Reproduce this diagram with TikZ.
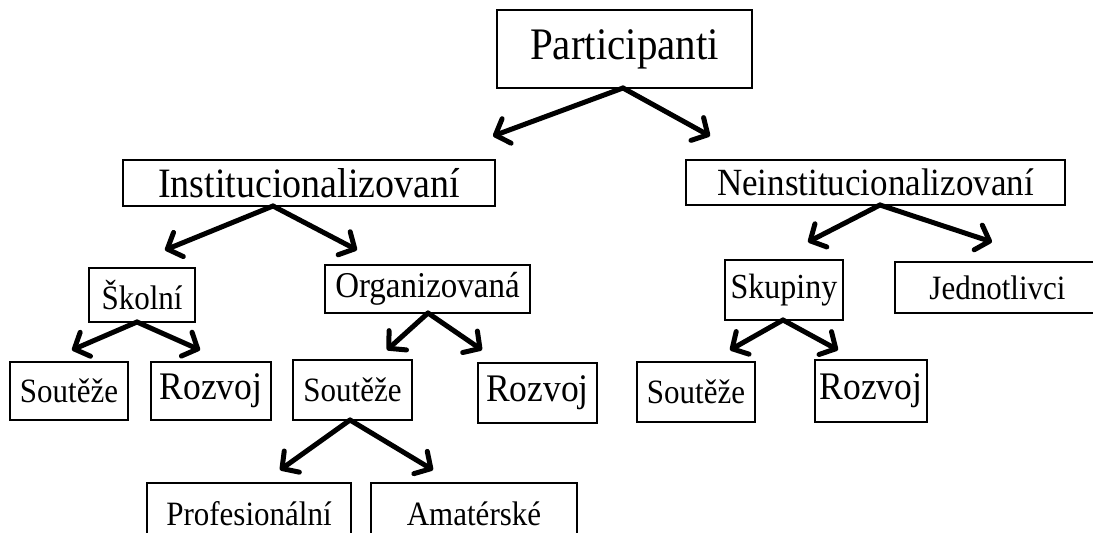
\documentclass[tikz,border=0pt]{standalone}
\usepackage{fontspec}
\setmainfont{Liberation Serif}
\usetikzlibrary{arrows.meta}
\newcommand{\fs}[1]{\fontsize{#1}{#1}\selectfont}
\newcommand{\vst}[1]{\scalebox{1}[1.1]{#1}}
\begin{document}
\begin{tikzpicture}[x=1pt,y=-1pt,
  box/.style={draw, line width=2.4pt, inner sep=0pt, align=center},
  arr/.style={line width=5pt, line cap=round,
    -{Straight Barb[length=12pt,width=26pt,line cap=round,line join=round]}}]
\useasboundingbox (0,0) rectangle (1093,533);
\clip (0,0) rectangle (1093,533);
% level 0
\node[box, minimum width=255pt, minimum height=78pt, font=\fs{41}] (p) at (624.5,49) {\vst{Participanti}};
% level 1
\node[box, minimum width=372pt, minimum height=46pt, font=\fs{38}] (inst) at (309,183) {\vst{Institucionalizovaní}};
\node[box, minimum width=379pt, minimum height=45pt, font=\fs{35}] (neinst) at (875.5,182.5) {\vst{Neinstitucionalizovaní}};
% level 2
\node[box, minimum width=106pt, minimum height=54pt, font=\fs{31}] (skol) at (142,295) {\vst{Školní}};
\node[box, minimum width=205pt, minimum height=48pt, font=\fs{33}] (org) at (427.5,289) {\vst{Organizovaná}};
\node[box, minimum width=118pt, minimum height=60pt, font=\fs{32}] (skup) at (784,290) {\vst{Skupiny}};
\node[box, minimum width=205pt, minimum height=51pt, font=\fs{31}] (jedn) at (997.5,287.5) {\vst{Jednotlivci}};
% level 3
\node[box, minimum width=118pt, minimum height=58pt, font=\fs{31}] (s1) at (69,391) {\vst{Soutěže}};
\node[box, minimum width=120pt, minimum height=58pt, font=\fs{35.5}] (r1) at (211,391) {\vst{Rozvoj}};
\node[box, minimum width=119pt, minimum height=60pt, font=\fs{31}] (s2) at (352.5,390) {\vst{Soutěže}};
\node[box, minimum width=119pt, minimum height=60pt, font=\fs{35.5}] (r2) at (537.5,393) {\vst{Rozvoj}};
\node[box, minimum width=118pt, minimum height=60pt, font=\fs{31}] (s3) at (696,392) {\vst{Soutěže}};
\node[box, minimum width=112pt, minimum height=62pt, font=\fs{35.5}] (r3) at (871,391) {\vst{Rozvoj}};
% level 4
\node[box, minimum width=204pt, minimum height=62pt, font=\fs{31}] (prof) at (249,514) {\vst{Profesionální}};
\node[box, minimum width=206pt, minimum height=62pt, font=\fs{31}] (amat) at (474,514) {\vst{Amatérské}};
% arrow origins and tips
\coordinate (pO) at (623,88);
\coordinate (pL) at (493,136);
\coordinate (pR) at (710,136);
\coordinate (iO) at (273,206);
\coordinate (iL) at (165,250);
\coordinate (iR) at (357,250);
\coordinate (nO) at (880,205);
\coordinate (nL) at (808,242);
\coordinate (nR) at (992,242);
\coordinate (kO) at (137,322);
\coordinate (kL) at (72,350);
\coordinate (kR) at (200,350);
\coordinate (oO) at (428,313);
\coordinate (oL) at (387,350);
\coordinate (oR) at (482,350);
\coordinate (uO) at (783,320);
\coordinate (uL) at (730,350);
\coordinate (uR) at (838,350);
\coordinate (sO) at (350,420);
\coordinate (sL) at (280,470);
\coordinate (sR) at (433,470);
\draw[arr] (pO) -- (pL);
\draw[arr] (pO) -- (pR);
\draw[arr] (iO) -- (iL);
\draw[arr] (iO) -- (iR);
\draw[arr] (nO) -- (nL);
\draw[arr] (nO) -- (nR);
\draw[arr] (kO) -- (kL);
\draw[arr] (kO) -- (kR);
\draw[arr] (oO) -- (oL);
\draw[arr] (oO) -- (oR);
\draw[arr] (uO) -- (uL);
\draw[arr] (uO) -- (uR);
\draw[arr] (sO) -- (sL);
\draw[arr] (sO) -- (sR);
\end{tikzpicture}
\end{document}
